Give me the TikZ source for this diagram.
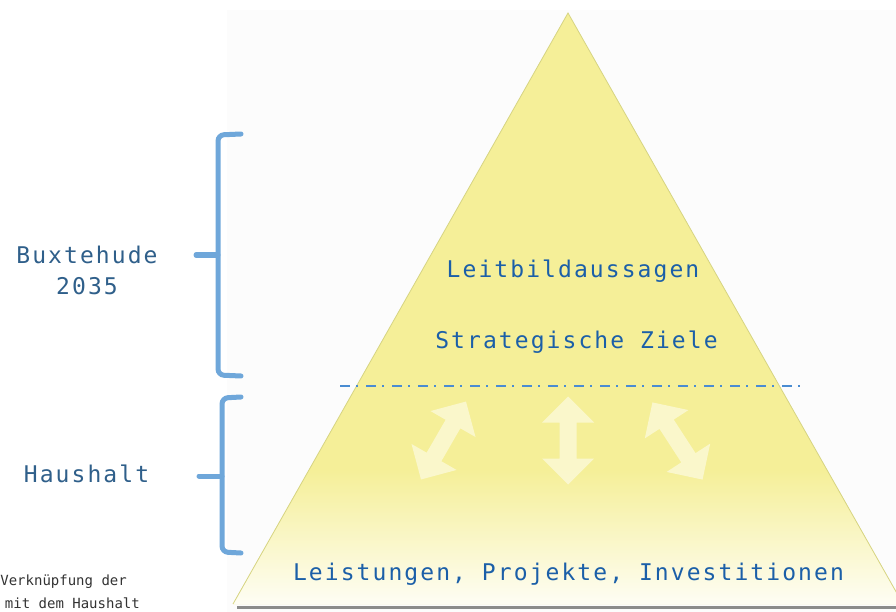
\documentclass[tikz,border=0pt]{standalone}
\usepackage{fontspec}
\newfontfamily\pyrfont{DejaVu Sans Mono}[LetterSpace=9]
\newfontfamily\notefont{DejaVu Sans Mono}
\definecolor{pyryellow}{RGB}{245,239,152}
\definecolor{pyredge}{RGB}{214,212,130}
\definecolor{pyrtext}{RGB}{27,95,168}
\definecolor{sidetext}{RGB}{47,95,138}
\definecolor{bracecol}{RGB}{111,167,218}
\definecolor{dashcol}{RGB}{74,140,210}
\tikzset{
  brace/.style={bracecol, line width=5pt, line cap=round, rounded corners=6pt},
  pyrlabel/.style={anchor=base, text=pyrtext, font=\pyrfont\fontsize{23}{23}\selectfont, inner sep=0pt},
  sidelabel/.style={anchor=base, text=sidetext, font=\pyrfont\fontsize{23}{23}\selectfont, inner sep=0pt, align=center},
  notelabel/.style={anchor=base east, text=black!80, font=\notefont\fontsize{14}{14}\selectfont, inner sep=0pt},
  arrowfill/.style={fill=white, fill opacity=0.5}
}
\begin{document}
\begin{tikzpicture}
  [x=1pt,y=-1pt]
  \useasboundingbox (0,0) rectangle (896,612);
  \clip (0,0) rectangle (896,612);

  % faint page behind the pyramid
  \fill[black!1] (227,10) rectangle (896,612);

  % pyramid
  \fill[pyryellow] (568,13) -- (903,604) -- (233,604) -- cycle;
  \begin{scope}
    \clip (568,13) -- (903,604) -- (233,604) -- cycle;
    \shade[top color=pyryellow, bottom color=pyryellow!10!white] (200,470) rectangle (910,605);
  \end{scope}
  \draw[pyredge, line width=0.8pt] (233,604) -- (568,13) -- (903,604);
  \draw[black!45, line width=3pt] (237,607) -- (896,607);

  % separation line
  \draw[dashcol, line width=2.5pt, dash pattern=on 10pt off 6pt on 2pt off 8pt] (340,386) -- (800,386);

  % arrows
  \begin{scope}[shift={(443.5,440.5)}, rotate=-30]
    \fill[arrowfill] (0,-45) -- (26,-19) -- (8.5,-19) -- (8.5,19) -- (26,19) -- (0,45)
      -- (-26,19) -- (-8.5,19) -- (-8.5,-19) -- (-26,-19) -- cycle;
  \end{scope}
  \begin{scope}[shift={(568,440.5)}]
    \fill[arrowfill] (0,-44) -- (26,-18) -- (8.5,-18) -- (8.5,18) -- (26,18) -- (0,44)
      -- (-26,18) -- (-8.5,18) -- (-8.5,-18) -- (-26,-18) -- cycle;
  \end{scope}
  \begin{scope}[shift={(677.5,441)}, rotate=33]
    \fill[arrowfill] (0,-46) -- (26,-20) -- (8.5,-20) -- (8.5,20) -- (26,20) -- (0,46)
      -- (-26,20) -- (-8.5,20) -- (-8.5,-20) -- (-26,-20) -- cycle;
  \end{scope}

  % labels in the pyramid
  \node[pyrlabel] (leitbild) at (573,277) {Leitbildaussagen};
  \node[pyrlabel] (ziele) at (576.5,348) {Strategische Ziele};
  \node[pyrlabel] (leistungen) at (568.5,580) {Leistungen, Projekte, Investitionen};

  % braces
  \draw[brace] (241,134) -- (218,135) -- (218,375) -- (241,376);
  \draw[brace] (196,255) -- (218,255);
  \draw[brace] (241,397) -- (222,398) -- (222,552) -- (241,553);
  \draw[brace] (199,476) -- (222,476);

  \node[sidelabel] (buxtehude) at (87,263) {Buxtehude};
  \node[sidelabel] (jahr) at (87,294) {2035};
  \node[sidelabel] (haushalt) at (86.5,482) {Haushalt};

  % note, cut at the left edge
  \node[notelabel] (note1) at (127,585) {Verknüpfung der};
  \node[notelabel] (note2) at (140,608) {mit dem Haushalt};
\end{tikzpicture}
\end{document}
